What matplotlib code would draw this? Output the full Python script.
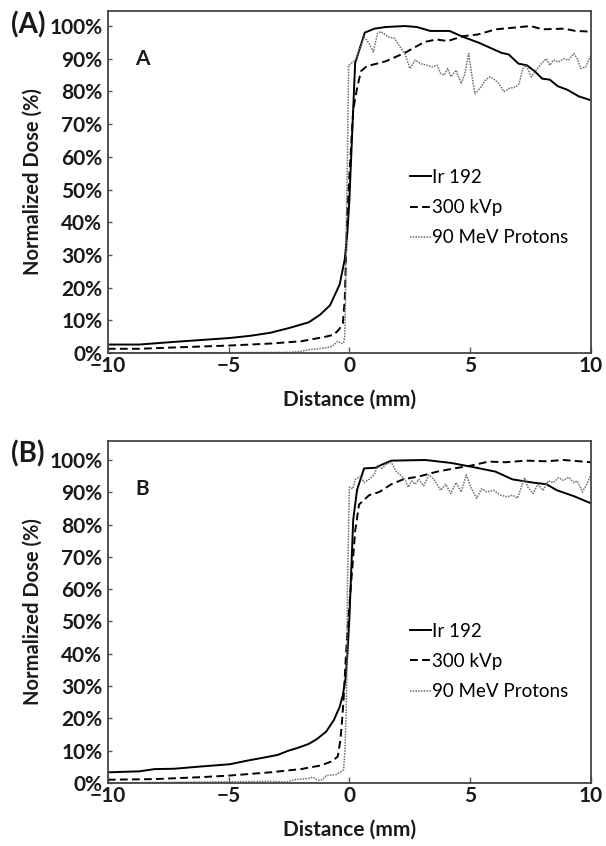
import matplotlib
matplotlib.use("Agg")
import matplotlib.pyplot as plt
from matplotlib.ticker import PercentFormatter

plt.rcParams['font.family'] = ['Lato', 'DejaVu Sans']

labels = ["Ir 192", "300 kVp", "90 MeV Protons"]

# ---- panel A data (distance in mm, dose in %) ----
a_ir_x = [-10, -8.7, -7.27, -4.95, -4.07, -3.27, -2.47, -1.68, -1.2, -0.8, -0.4, -0.19, -0.08, 0.0,
          0.24, 0.64, 1.04, 1.5, 2.3, 2.8, 3.35, 4.15, 4.7, 5.36, 6.3, 6.6, 7.0, 7.35, 7.67, 7.99,
          8.3, 8.63, 9.03, 9.5, 10]
a_ir_y = [2.6, 2.6, 3.4, 4.6, 5.3, 6.2, 7.7, 9.4, 11.8, 14.6, 21, 28.7, 37, 46.7,
          88.7, 98, 99.2, 99.7, 100, 99.7, 98.5, 98.5, 96.7, 94.9, 91.8, 91.3, 88.5, 88, 86.2, 83.9,
          83.6, 81.6, 80.5, 78.5, 77.3]

a_kv_x = [-10, -8.7, -7.27, -4.95, -3.27, -2.0, -1.04, -0.64, -0.43, -0.27, -0.19, -0.13, -0.08,
          0.16, 0.32, 0.48, 0.72, 1.5, 2.3, 3.1, 3.6, 4.07, 4.7, 5.3, 6.07, 6.8, 7.5, 8.0, 8.9, 9.36, 10]
a_kv_y = [1.3, 1.3, 1.7, 2.3, 2.9, 3.6, 4.9, 5.6, 7.2, 9.0, 16.4, 32, 44,
          74.4, 81, 86.2, 87.7, 89.2, 91.8, 95.1, 95.9, 95.4, 96.9, 97.4, 99, 99.5, 100, 99, 99.2, 98.5, 98.3]

a_pr_x = [-10, -6, -2.5, -2.0, -1.7, -1.04, -0.72, -0.48, -0.32, -0.24, -0.19, -0.16, -0.13, -0.08,
          -0.03, 0.25, 0.47, 0.61, 0.82, 0.99, 1.17, 1.31, 1.6, 1.88, 2.09, 2.3, 2.51, 2.73, 2.94,
          3.22, 3.43, 3.64, 3.78, 3.93, 4.07, 4.21, 4.42, 4.63, 4.77, 4.94, 5.06, 5.2, 5.41, 5.62,
          5.83, 6.05, 6.19, 6.4, 6.61, 6.9, 7.03, 7.18, 7.32, 7.53, 7.74, 7.95, 8.16, 8.3, 8.45,
          8.66, 8.87, 9.08, 9.3, 9.44, 9.58, 9.79, 10]
a_pr_y = [0.1, 0.1, 0.2, 0.5, 1.0, 1.5, 2.0, 3.6, 2.9, 3.1, 5, 16, 37, 60,
          88, 89.6, 93.7, 96.7, 94.7, 92.1, 97.8, 98.3, 96.7, 96.2, 93.7, 91.6, 87, 89.6, 88.5,
          88, 87.5, 88, 85.5, 85, 87, 84.5, 86.5, 82.4, 85, 91.6, 85.5, 79.3, 80.9, 83.4,
          84.5, 83.4, 82.4, 79.9, 80.9, 81.4, 82.4, 87, 88, 84.5, 86.5, 88.5, 90, 88, 89.6,
          89, 90, 89.6, 91.6, 90, 87, 87.5, 91.1]

# ---- panel B data ----
b_ir_x = [-10, -8.7, -8.06, -7.27, -6.15, -4.95, -4.24, -3.44, -2.96, -2.56, -2.16, -1.68, -1.36,
          -0.96, -0.64, -0.4, -0.27, -0.16, -0.08, 0.0, 0.16, 0.32, 0.61, 1.1, 1.3, 1.74, 3.15,
          4.2, 5.06, 6.05, 6.75, 7.6, 8.16, 8.6, 9.3, 10]
b_ir_y = [3.3, 3.6, 4.3, 4.4, 5.1, 5.8, 6.9, 8.0, 8.7, 9.9, 10.8, 12.1, 13.5,
          15.9, 19.5, 23.6, 27.2, 32.3, 40, 50.8, 81.5, 90.8, 97.4, 97.6, 98.4, 99.8, 100,
          99.1, 97.9, 96.4, 94, 93, 92.5, 90.6, 88.8, 86.6]

b_kv_x = [-10, -8.06, -6.15, -4.95, -3.27, -2.0, -1.2, -0.72, -0.48, -0.37, -0.3, -0.24, -0.16,
          -0.08, 0.24, 0.4, 0.82, 1.24, 1.74, 2.23, 2.94, 3.64, 4.35, 5.06, 5.76, 6.47, 7.3,
          8.16, 8.87, 10]
b_kv_y = [1.0, 1.2, 1.8, 2.3, 3.3, 4.3, 5.4, 6.7, 8.2, 13.3, 19.5, 25.6, 37,
          47, 78, 86.2, 89.1, 90.1, 92.5, 94, 95, 96.4, 97.4, 98.3, 99.5, 99.3, 99.8,
          99.6, 100, 99.3]

b_pr_x = [-10, -3.27, -2.56, -2.3, -1.68, -1.52, -1.28, -1.12, -0.96, -0.56, -0.32, -0.24, -0.19,
          -0.14, -0.1, -0.08, 0.0, 0.14, 0.25, 0.47, 0.61, 0.82, 1.03, 1.17, 1.36, 1.53, 1.74,
          1.84, 1.95, 2.16, 2.3, 2.44, 2.58, 2.73, 2.87, 3.08, 3.29, 3.5, 3.78, 3.99, 4.2, 4.42,
          4.63, 4.84, 5.06, 5.27, 5.48, 5.69, 5.97, 6.26, 6.54, 6.75, 6.96, 7.1, 7.25, 7.39, 7.6,
          7.81, 8.02, 8.23, 8.45, 8.66, 8.87, 9.08, 9.3, 9.44, 9.65, 9.83, 10]
b_pr_y = [0.0, 0.5, 0.3, 1.0, 1.4, 1.8, 0.8, 1.0, 2.3, 2.6, 3.6, 4.1, 9.2,
          19.5, 35, 60, 91.6, 91.1, 94, 95, 93, 94, 95.4, 98.3, 97.4, 98.8, 99.3,
          97.9, 96.4, 95, 94, 91.6, 93.5, 92.5, 94, 92, 95.4, 94, 90.6, 92.5, 89.6, 93,
          90.1, 95.4, 91.1, 88.2, 91.1, 90.1, 90.6, 89.1, 88.6, 89.1, 88.2, 91.1, 94.5, 91.6, 89.6,
          92.5, 90.6, 93.5, 93, 94.5, 93.7, 94.7, 93, 93.5, 90.1, 92.5, 95.4]

panels = [
    ("(A)", "A", 1.046, [(a_ir_x, a_ir_y), (a_kv_x, a_kv_y), (a_pr_x, a_pr_y)], (0.61, 0.56)),
    ("(B)", "B", 1.059, [(b_ir_x, b_ir_y), (b_kv_x, b_kv_y), (b_pr_x, b_pr_y)], (0.61, 0.49)),
]

fig = plt.figure(figsize=(6.06, 8.46), dpi=100)
axes_pos = [[0.178, 0.5827, 0.797, 0.4043], [0.178, 0.0745, 0.797, 0.4043]]
tag_y = [0.970, 0.463]

styles = [dict(color='black', lw=1.4, ls='-'),
          dict(color='black', lw=1.4, ls=(0, (4, 2.2))),
          dict(color='#6e6e6e', lw=1.1, ls=(0, (1, 0.8)))]

for (tag, inner, ytop, series, legpos), pos, ty in zip(panels, axes_pos, tag_y):
    ax = fig.add_axes(pos)
    for (xs, ys), st, lab in zip(series, styles, labels):
        ax.plot(xs, [v / 100 for v in ys], label=lab, **st)
    ax.set_xlim(-10, 10)
    ax.set_ylim(0, ytop)
    ax.set_xticks([-10, -5, 0, 5, 10])
    ax.set_xticklabels(["\u221210", "\u22125", "0", "5", "10"])
    ax.set_yticks([i / 10 for i in range(11)])
    ax.yaxis.set_major_formatter(PercentFormatter(1.0, decimals=0))
    ax.tick_params(axis='x', direction='in', length=4, width=1, color='#555555', pad=2)
    ax.tick_params(axis='y', direction='in', length=3, width=1, color='#555555', pad=4)
    for lab in ax.get_xticklabels() + ax.get_yticklabels():
        lab.set_fontweight('bold')
        lab.set_fontsize(15)
        lab.set_color('#1a1a1a')
    for sp in ax.spines.values():
        sp.set_color('#444444')
        sp.set_linewidth(1.3)
    ax.set_xlabel("Distance (mm)", fontsize=15, fontweight='bold', labelpad=10, color='#1a1a1a')
    ax.set_ylabel("Normalized Dose (%)", fontsize=14.5, fontweight='bold', labelpad=5,
                  color='#1a1a1a')
    ax.text(0.072, 0.86, inner, transform=ax.transAxes, fontsize=15, fontweight='bold',
            ha='center', va='center', color='#1a1a1a')
    fig.text(0.018, ty, tag, fontsize=20, fontweight='bold', ha='left', va='center',
             color='#1a1a1a')
    ax.legend(loc='upper left', bbox_to_anchor=legpos, frameon=False, fontsize=13.5,
              handlelength=1.1, handletextpad=0.1, labelspacing=0.7, borderaxespad=0)

fig.savefig("out.png", dpi=100)
